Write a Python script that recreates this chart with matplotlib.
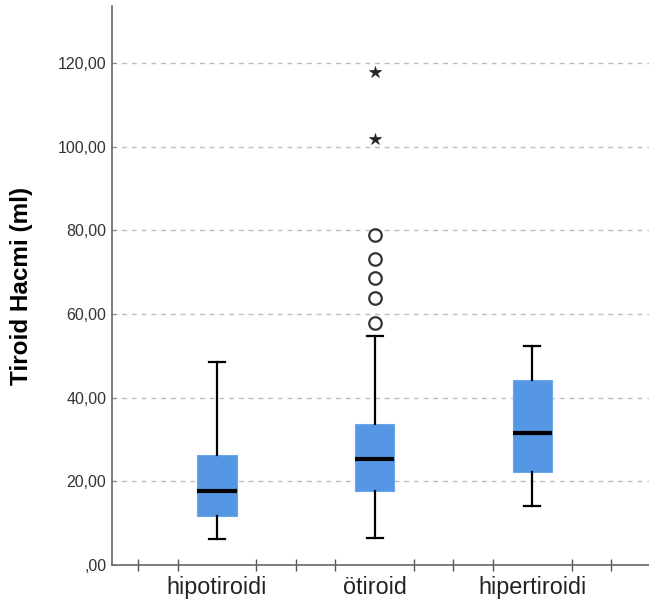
import matplotlib
matplotlib.use('Agg')
import matplotlib.pyplot as plt
from matplotlib.ticker import FuncFormatter, FixedLocator

# box statistics
groups = ['hipotiroidi', 'ötiroid', 'hipertiroidi']
whis_lo = [6.1, 6.5, 14.2]
q1 = [11.7, 17.8, 22.3]
medians = [17.7, 25.3, 31.5]
q3 = [26.3, 33.6, 44.1]
whis_hi = [48.4, 54.7, 52.4]
outliers = [[], [57.9, 63.9, 68.5, 73.1, 78.9], []]      # circles
extremes = [[], [101.8, 117.9], []]                       # stars

y_ticks = [0, 20, 40, 60, 80, 100, 120]

plt.rcParams['font.family'] = ['Liberation Sans', 'DejaVu Sans']

fig = plt.figure(figsize=(6.49, 6.08), dpi=100)
ax = fig.add_axes([112 / 649, 43 / 608, 1 - 112 / 649, 559 / 608])

stats = []
for i in range(len(groups)):
    stats.append({'label': groups[i], 'whislo': whis_lo[i], 'q1': q1[i], 'med': medians[i],
                  'q3': q3[i], 'whishi': whis_hi[i], 'fliers': outliers[i]})

pos = list(range(len(groups)))
ax.bxp(stats, positions=pos, widths=0.25, patch_artist=True, showfliers=True,
       boxprops=dict(facecolor='#5597E4', edgecolor='#6AA6EC', linewidth=0.8),
       medianprops=dict(color='black', linewidth=3),
       whiskerprops=dict(color='black', linewidth=1.6),
       capprops=dict(color='black', linewidth=1.6),
       capwidths=0.1,
       flierprops=dict(marker='o', markersize=9, markerfacecolor='none',
                       markeredgecolor='#333333', markeredgewidth=1.6),
       zorder=3)

for i, vals in enumerate(extremes):
    if vals:
        ax.plot([pos[i]] * len(vals), vals, linestyle='none', marker='*', markersize=9,
                color='#222222', markeredgewidth=0.5, zorder=4)

ax.set_xlim(-0.666, 2.74)
ax.set_ylim(0, 133.6)

ax.yaxis.set_major_locator(FixedLocator(y_ticks))
def fmt(v, p):
    s = '{:.2f}'.format(v).replace('.', ',')
    if s.startswith('0,'):
        s = s[1:]
    return s
ax.yaxis.set_major_formatter(FuncFormatter(fmt))
for y in y_ticks[1:]:
    ax.axhline(y, color='#BDBDBD', linewidth=1, linestyle=(0, (3.5, 3.5)), zorder=1)

ax.set_xticks(pos)
ax.set_xticklabels(groups, fontsize=16.8, color='#222222', va='baseline')
ax.tick_params(axis='x', length=0, pad=21)
ax.set_xticks([-0.5, -0.25, 0.25, 0.5, 0.75, 1.25, 1.5, 1.75, 2.25, 2.5], minor=True)
ax.tick_params(axis='x', which='minor', direction='inout', length=8, width=1, color='#555555')
ax.tick_params(axis='y', labelsize=11.5, length=3, direction='in', color='#888888',
               labelcolor='#333333', pad=4)

ax.set_ylabel('Tiroid Hacmi (ml)', fontsize=17.5, fontweight='bold')
ax.yaxis.set_label_coords(-0.147, 0.50)

for s in ['top', 'right']:
    ax.spines[s].set_visible(False)
for s in ['left', 'bottom']:
    ax.spines[s].set_color('#666666')
    ax.spines[s].set_linewidth(1.2)

fig.savefig('out.png', dpi=100)
